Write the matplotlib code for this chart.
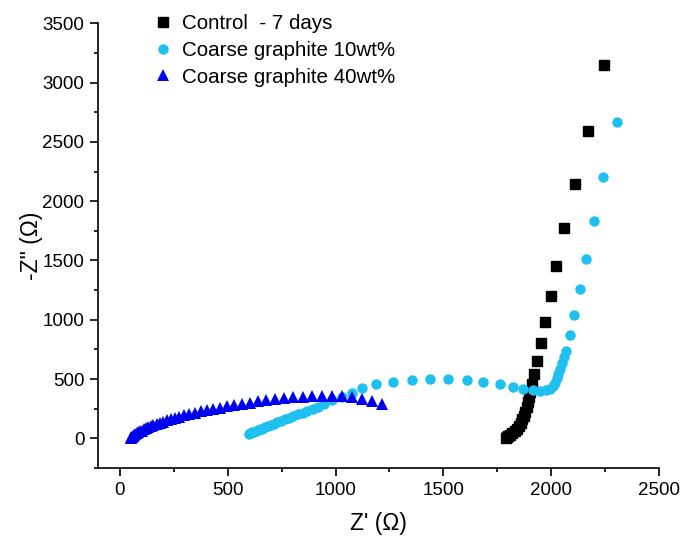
import matplotlib
matplotlib.use("Agg")
import matplotlib.pyplot as plt
from matplotlib.ticker import MultipleLocator

plt.rcParams['font.family'] = ['Liberation Sans', 'DejaVu Sans']

# Control - 7 days
control_re = [2246, 2169, 2110, 2061, 2022, 2000, 1971, 1951, 1933, 1922, 1910,
              1902, 1897, 1892, 1886, 1880, 1873, 1866, 1858, 1849, 1840, 1830,
              1820, 1810, 1801, 1794, 1790]
control_im = [3145, 2593, 2143, 1770, 1454, 1198, 981, 804, 652, 546, 461,
              391, 350, 310, 264, 225, 190, 160, 130, 103, 80, 60,
              43, 28, 17, 10, 5]

# Coarse graphite 10wt%
g10_re = [600, 604, 609, 615, 622, 630, 639, 649, 660, 672, 685, 699, 714, 730,
          747, 765, 784, 804, 825, 847, 870, 894, 919, 945, 985, 1030, 1075,
          1121, 1190, 1268, 1353, 1438, 1523, 1608, 1685, 1763, 1824, 1871,
          1917, 1950, 1975, 1995, 2008, 2018, 2026, 2033, 2042, 2052, 2060,
          2069, 2087, 2107, 2134, 2162, 2200, 2242, 2304]
g10_im = [40, 43, 47, 51, 56, 62, 68, 75, 83, 92, 101, 111, 122, 134,
          146, 159, 173, 187, 202, 218, 234, 251, 268, 290, 320, 350, 385,
          425, 456, 475, 492, 498, 497, 489, 474, 455, 435, 418,
          405, 402, 408, 420, 440, 470, 505, 546, 588, 632, 683,
          737, 872, 1044, 1257, 1516, 1835, 2205, 2667]

# Coarse graphite 40wt%
g40_re = [50, 53, 57, 61, 66, 72, 78, 85, 93, 101, 110, 120, 131, 143, 156, 170,
          185, 201, 218, 236, 255, 276, 298, 322, 347, 374, 402, 432, 463, 496,
          530, 566, 603, 641, 680, 720, 762, 805, 848, 892, 937, 982, 1028,
          1075, 1121, 1167, 1214]
g40_im = [4, 9, 15, 21, 28, 35, 42, 50, 58, 66, 75, 84, 93, 102, 112, 122,
          132, 142, 152, 162, 172, 183, 194, 205, 216, 227, 238, 249, 260, 271,
          282, 292, 302, 312, 321, 330, 338, 345, 351, 355, 358, 358, 354,
          346, 333, 314, 290]

labels = ["Control  - 7 days", "Coarse graphite 10wt%", "Coarse graphite 40wt%"]

fig = plt.figure(figsize=(6.82, 5.44), dpi=100)
ax = fig.add_axes([0.1441, 0.1397, 0.8222, 0.8175])

ax.plot(control_re, control_im, linestyle='none', marker='s', markersize=7,
        color='black', label=labels[0])
ax.plot(g10_re, g10_im, linestyle='none', marker='o', markersize=7.5,
        color='#1EC0F0', markeredgewidth=0, label=labels[1])
ax.plot(g40_re, g40_im, linestyle='none', marker='^', markersize=8.5,
        color='#0000F0', markeredgewidth=0, label=labels[2])

ax.set_xlim(-100, 2500)
ax.set_ylim(-250, 3500)
ax.xaxis.set_major_locator(MultipleLocator(500))
ax.xaxis.set_minor_locator(MultipleLocator(250))
ax.yaxis.set_major_locator(MultipleLocator(500))
ax.yaxis.set_minor_locator(MultipleLocator(250))

for side in ('top', 'right'):
    ax.spines[side].set_visible(False)
for side in ('left', 'bottom'):
    ax.spines[side].set_linewidth(1.2)

ax.tick_params(which='major', direction='out', length=6, width=1.2,
               labelsize=13.5, pad=4)
ax.tick_params(which='minor', direction='out', length=3, width=1.2)

ax.set_xlabel("Z' (Ω)", fontsize=16.5, labelpad=9.5)
ax.set_ylabel('-Z" (Ω)', fontsize=16.5, labelpad=-0.5)

ax.legend(loc='upper left', bbox_to_anchor=(0.2243, 0.9736),
          bbox_transform=fig.transFigure, frameon=False, fontsize=14.8,
          handlelength=1.0, handletextpad=0.4, labelspacing=0.37,
          borderpad=0, borderaxespad=0)

fig.savefig("out.png", dpi=100)
